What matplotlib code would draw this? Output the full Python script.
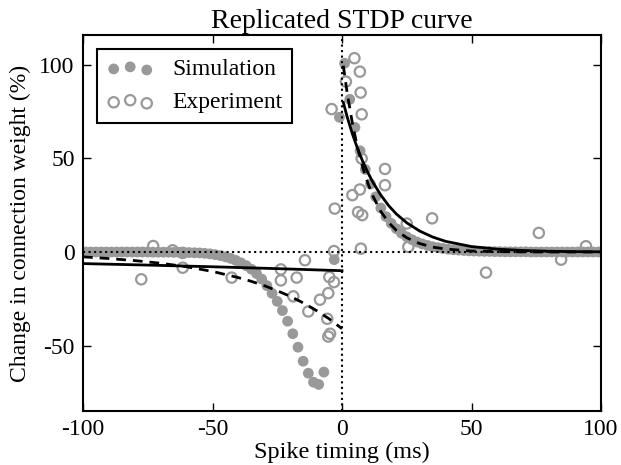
import matplotlib
matplotlib.use("Agg")
import matplotlib.pyplot as plt
import numpy as np

plt.rcParams['font.family'] = ['Liberation Serif', 'DejaVu Serif']
plt.rcParams['mathtext.fontset'] = 'stix'

# ---------------- data ----------------
# Simulation (filled gray circles)
sim_t_left = [-99, -97, -95, -93, -91, -89, -87, -85, -83, -81, -79, -77, -75, -73, -71,
              -69, -67, -65, -63, -61, -59, -57, -55, -53, -51, -49, -47, -45, -43, -41,
              -39, -37, -35, -33, -31, -29, -27, -25, -23, -21, -19, -17, -15, -13, -11,
              -9, -7, -3, -1]
sim_v_left = [0.0, 0.0, 0.0, 0.0, 0.0, 0.0, 0.0, 0.0, 0.0, 0.0, 0.0, 0.0, 0.0, -0.1, -0.1,
              -0.1, -0.1, -0.2, -0.2, -0.2, -0.3, -0.4, -0.5, -0.7, -1.0, -1.4, -1.9, -2.6, -3.4, -4.5,
              -5.8, -7.3, -9.2, -11.5, -14.5, -18.0, -22.1, -26.4, -31.3, -37.0, -43.7, -50.9, -58.4, -64.8, -69.6,
              -70.8, -64.2, -4.1, 72.0]
sim_t_right = [1, 3, 5, 7, 9, 11, 13, 15, 17, 19, 21, 23, 25, 27, 29, 31, 33, 35, 37, 39,
               41, 43, 45, 47, 49, 51, 53, 55, 57, 59, 61, 63, 65, 67, 69, 71, 73, 75, 77, 79,
               81, 83, 85, 87, 89, 91, 93, 95, 97, 99]
sim_v_right = [100.9, 81.6, 66.6, 54.1, 44.1, 36.3, 29.5, 23.5, 18.9, 15.3, 12.4, 10.0, 8.1, 6.6, 5.3,
               4.3, 3.5, 2.8, 2.3, 1.9, 1.5, 1.2, 1.0, 0.8, 0.6, 0.5, 0.4, 0.3, 0.3, 0.2,
               0.2, 0.1, 0.1, 0.1, 0.1, 0.1, 0.0, 0.0, 0.0, 0.0, 0.0, 0.0, 0.0, 0.0, 0.0,
               0.0, 0.0, 0.0, 0.0, 0.0]

# Experiment (open gray circles)
exp_t = [-77.5, -72.9, -65.4, -61.5, -61.5, -42.6, -23.6, -23.6, -18.8, -17.5, -14.3, -13.0,
         -8.5, -5.7, -5.3, -5.3, -4.9, -4.6, -4.0, -3.1, -3.1, -2.8,
         1.5, 4.0, 4.8, 6.2, 6.9, 6.9, 7.2, 7.3, 7.6, 7.6, 7.8, 16.6, 16.6, 25.0, 25.6,
         34.8, 55.6, 76.0, 84.6, 94.2]
exp_v = [-14.6, 3.2, 0.9, -0.5, -8.4, -13.7, -9.3, -15.2, -23.7, -13.7, -4.4, -31.8,
         -25.5, -35.7, -22.0, -45.2, -13.4, -43.7, 76.4, 0.5, -16.1, 23.2,
         91.1, 30.4, 103.6, 21.3, 96.4, 33.4, 85.2, 1.8, 73.6, 50.0, 19.7, 44.4, 35.7, 15.2, 2.7,
         18.0, -11.0, 10.2, -4.1, 3.1]

# Fit to experiment (solid) and to simulation (dashed)
fitexp_t_left = [-100, -75, -50, -25, 0]
fitexp_v_left = [-6.2, -7.0, -7.9, -8.9, -10.0]
fitexp_t_right = [0.5, 2, 4, 6, 8, 10, 12, 15, 18, 21, 25, 30, 35, 40, 50, 60, 70, 80, 90, 100]
fitexp_v_right = [80.0, 72.2, 63.2, 55.3, 48.4, 42.4, 37.1, 30.4, 24.8, 20.3, 15.6, 11.2, 8.0, 5.7,
                  2.9, 1.5, 0.8, 0.4, 0.2, 0.1]

fitsim_t_left = [-100, -90, -80, -70, -60, -50, -40, -35, -30, -25, -20, -15, -10, -5, 0]
fitsim_v_left = [-2.6, -3.5, -4.6, -6.0, -7.9, -10.4, -13.7, -15.7, -18.0, -20.7, -23.7, -27.2,
                 -31.2, -35.7, -41.0]
fitsim_t_right = [0.5, 2, 4, 6, 8, 10, 12, 15, 18, 21, 25, 30, 35, 40, 50, 60, 70, 80, 90, 100]
fitsim_v_right = [99.6, 85.0, 68.9, 55.8, 45.2, 36.7, 29.7, 21.6, 15.8, 11.5, 7.6, 4.5, 2.6, 1.6,
                  0.5, 0.2, 0.06, 0.0, 0.0, 0.0]

x_ticks = [-100, -50, 0, 50, 100]
y_ticks = [-50, 0, 50, 100]

# ---------------- plot ----------------
fig = plt.figure(figsize=(6.21, 4.65), dpi=100)
ax = fig.add_axes([83 / 621, 1 - 411 / 465, (601 - 83) / 621, (411 - 35) / 465])

gray = '#999999'
ax.scatter(sim_t_left + sim_t_right, sim_v_left + sim_v_right, s=60, c=gray,
           edgecolors='none', label='Simulation', zorder=2)
ax.scatter(exp_t, exp_v, s=55, facecolors='none', edgecolors=gray, linewidths=1.6,
           label='Experiment', zorder=3)

ax.plot(fitexp_t_left, fitexp_v_left, color='black', lw=2.0, zorder=4)
ax.plot(fitexp_t_right, fitexp_v_right, color='black', lw=2.0, zorder=4)
ax.plot(fitsim_t_left, fitsim_v_left, color='black', lw=2.0, ls=(0, (3.5, 2.5)), zorder=4)
ax.plot(fitsim_t_right, fitsim_v_right, color='black', lw=2.0, ls=(0, (3.5, 2.5)), zorder=4)

ax.axhline(0, color='black', lw=1.5, ls=':', zorder=5)
ax.axvline(0, color='black', lw=1.5, ls=':', zorder=5)

ax.set_xlim(-100, 100)
ax.set_ylim(-85, 116)
ax.set_xticks(x_ticks)
ax.set_xticklabels([str(v) for v in x_ticks])
ax.set_yticks(y_ticks)
ax.set_yticklabels([str(v) for v in y_ticks])
ax.tick_params(direction='in', length=6, width=1, top=True, right=True, labelsize=17, pad=6)
for sp in ax.spines.values():
    sp.set_linewidth(1.5)

ax.set_title('Replicated STDP curve', fontsize=20, pad=5)
ax.set_xlabel('Spike timing (ms)', fontsize=17.5, labelpad=1)
ax.set_ylabel('Change in connection weight (%)', fontsize=17, labelpad=6)

leg = ax.legend(loc='upper left', scatterpoints=3, fontsize=17, fancybox=False,
                edgecolor='black', framealpha=1, borderaxespad=0.6, handletextpad=0.8,
                borderpad=0.4)
leg.get_frame().set_linewidth(1.5)

fig.savefig('out.png', dpi=100)
